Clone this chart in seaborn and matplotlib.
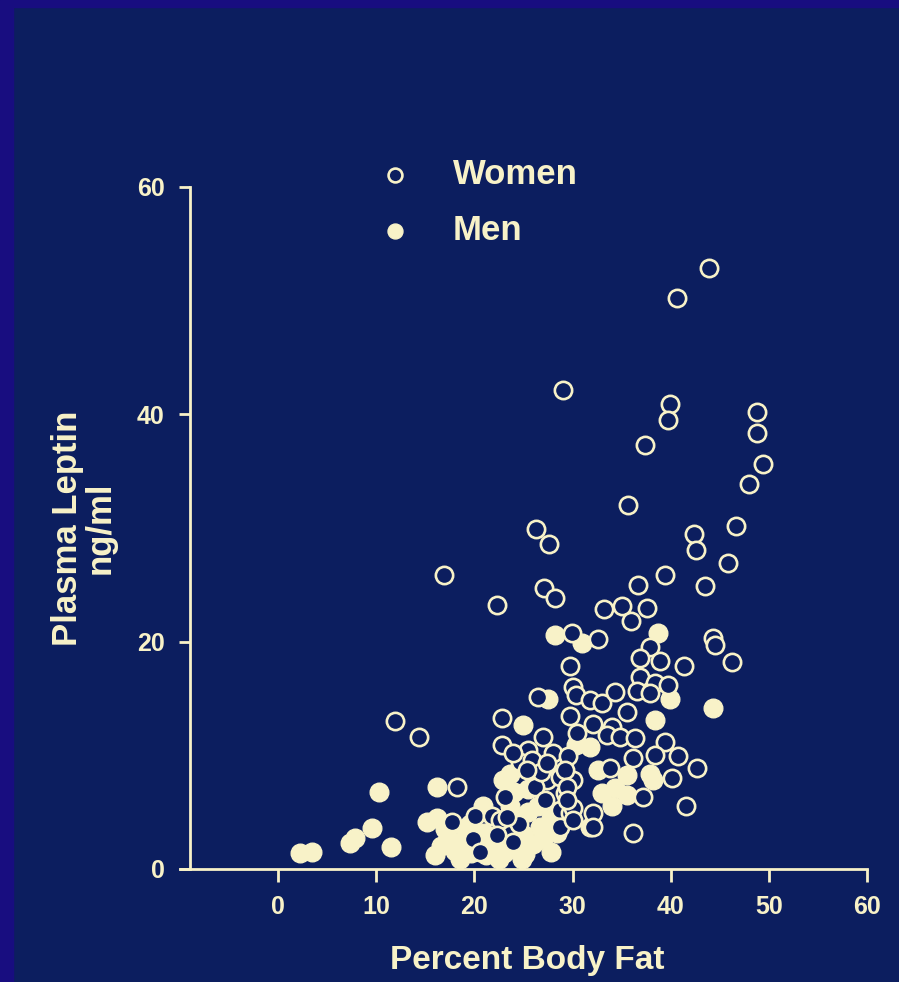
import matplotlib
matplotlib.use("Agg")
import matplotlib.pyplot as plt
import seaborn as sns
import pandas as pd

# colours
BG = "#0c1e5f"
BORDER = "#180d80"
CREAM = "#f8f2c8"

women_x = [43.9, 40.6, 29.0, 39.9, 39.7, 37.4, 48.8, 48.8, 49.4, 48.0,
           35.6, 46.7, 26.3, 27.6, 42.4, 42.6, 16.9, 27.1, 28.2, 36.7,
           39.4, 43.5, 45.8, 22.3, 33.2, 35.0, 37.6, 36.0, 29.9, 32.6,
           44.3, 44.5, 29.7, 41.4, 46.2, 11.9, 14.4, 18.2, 42.7, 37.9,
           36.9, 38.9, 36.9, 38.4, 39.7, 36.6, 37.9, 30.0, 30.4, 31.8,
           33.0, 34.3, 35.5, 26.5, 29.7, 22.8, 32.1, 34.0, 33.5, 34.8,
           30.5, 27.0, 36.4, 39.4, 40.7, 38.4, 36.2, 22.8, 33.8, 40.1,
           41.6, 37.2, 36.2, 32.1, 32.1, 28.0, 29.5, 27.4, 28.7, 30.0,
           28.7, 29.7, 28.7, 25.5, 24.6, 25.9, 23.1, 26.2, 27.2, 20.1,
           21.8, 22.6, 17.7, 19.9, 22.3, 23.9, 20.6, 23.9, 29.2, 30.0,
           24.5, 26.8, 29.2, 27.4, 25.4, 29.4, 29.4, 30.0, 23.3]
women_y = [52.9, 50.2, 42.1, 40.9, 39.5, 37.3, 40.2, 38.4, 35.6, 33.9,
           32.0, 30.2, 29.9, 28.6, 29.5, 28.1, 25.9, 24.7, 23.8, 25.0,
           25.9, 24.9, 26.9, 23.2, 22.9, 23.1, 23.0, 21.8, 20.8, 20.2,
           20.3, 19.7, 17.9, 17.9, 18.2, 13.0, 11.6, 7.2, 8.9, 19.5,
           18.6, 18.3, 16.9, 16.4, 16.2, 15.7, 15.5, 16.0, 15.3, 14.9,
           14.6, 15.6, 13.8, 15.1, 13.5, 13.3, 12.8, 12.5, 11.8, 11.6,
           12.0, 11.6, 11.5, 11.2, 9.9, 10.0, 9.8, 10.9, 8.9, 8.0,
           5.5, 6.3, 3.2, 4.9, 3.7, 10.2, 9.9, 7.8, 8.1, 7.8,
           5.2, 4.9, 3.7, 10.5, 9.4, 9.6, 6.3, 7.2, 6.1, 4.7,
           4.7, 4.3, 4.1, 2.6, 3.0, 2.4, 1.5, 10.2, 6.7, 5.4,
           4.0, 8.5, 8.7, 9.3, 8.7, 7.2, 6.1, 4.3, 4.6]

men_x = [2.2, 3.5, 7.3, 7.8, 9.6, 10.3, 11.5, 15.2, 16.2, 16.2,
         16.0, 16.6, 17.3, 18.0, 18.8, 19.6, 20.4, 21.2, 22.0, 23.0,
         24.2, 25.2, 26.0, 19.0, 21.0, 25.0, 26.7, 28.4, 27.0, 20.9,
         23.6, 22.9, 23.6, 24.9, 24.4, 25.5, 24.0, 28.2, 31.0, 38.7,
         27.5, 39.9, 44.3, 38.4, 30.4, 31.8, 32.6, 35.5, 37.9, 38.2,
         33.0, 34.3, 35.5, 34.0, 31.8, 25.5, 26.5, 27.8, 25.0, 27.8,
         24.8, 22.5, 18.5, 17.0, 19.5]
men_y = [1.4, 1.5, 2.3, 2.7, 3.6, 6.8, 1.9, 4.1, 4.5, 7.2,
         1.2, 2.0, 2.8, 1.6, 2.4, 1.4, 2.2, 1.2, 2.0, 1.4,
         1.8, 1.3, 2.2, 3.5, 3.2, 3.0, 3.7, 3.2, 2.6, 5.5,
         5.5, 7.8, 8.4, 12.7, 4.2, 5.0, 6.8, 20.6, 19.9, 20.8,
         15.0, 15.0, 14.2, 13.1, 10.9, 10.7, 8.7, 8.3, 8.4, 7.8,
         6.7, 7.1, 6.5, 5.5, 3.7, 7.0, 5.5, 4.5, 2.5, 1.5,
         0.9, 0.9, 0.9, 3.5, 4.0]

x_ticks = [0, 10, 20, 30, 40, 50, 60]
y_ticks = [0, 20, 40, 60]

women = pd.DataFrame({"fat": women_x, "leptin": women_y})
men = pd.DataFrame({"fat": men_x, "leptin": men_y})

sns.set_style("ticks")
plt.rcParams["font.family"] = ["Liberation Sans", "DejaVu Sans"]

fig = plt.figure(figsize=(8.99, 9.82), dpi=100, facecolor=BG)
# purple frame at the left and top edges of the slide
fig.patches.append(plt.Rectangle((0, 0), 13 / 899, 1, transform=fig.transFigure,
                                 color=BORDER, zorder=0))
fig.patches.append(plt.Rectangle((0, 1 - 7 / 982), 1, 7 / 982, transform=fig.transFigure,
                                 color=BORDER, zorder=0))

ax = fig.add_axes([180 / 899, 113 / 982, 687 / 899, 682 / 982])
ax.set_facecolor("none")

sns.scatterplot(data=men, x="fat", y="leptin", ax=ax, s=180, color=CREAM,
                edgecolor=CREAM, linewidth=1, label="Men", zorder=3, clip_on=False)
sns.scatterplot(data=women, x="fat", y="leptin", ax=ax, s=155, color=BG,
                edgecolor=CREAM, linewidth=1.9, label="Women", zorder=4, clip_on=False)

ax.set_xlim(-10, 60)
ax.set_ylim(0, 60)
ax.set_xticks(x_ticks)
ax.set_yticks(y_ticks)

for side in ["top", "right"]:
    ax.spines[side].set_visible(False)
ax.spines["left"].set_position(("data", -9))
for side in ["left", "bottom"]:
    ax.spines[side].set_color(CREAM)
    ax.spines[side].set_linewidth(2)

ax.tick_params(axis="x", colors=CREAM, length=9, width=2, pad=10, labelsize=18)
ax.tick_params(axis="y", colors=CREAM, length=8, width=2, pad=10, labelsize=18)
for lab in ax.get_xticklabels() + ax.get_yticklabels():
    lab.set_fontweight("bold")

ax.set_xlabel("Percent Body Fat", color=CREAM, fontsize=24, fontweight="bold")
ax.xaxis.set_label_coords(0.505, -0.112)
ax.set_ylabel("Plasma Leptin\nng/ml", color=CREAM, fontsize=25, fontweight="bold",
              linespacing=1.0)
ax.yaxis.set_label_coords(-0.092, 0.5)

handles, labels = ax.get_legend_handles_labels()
order = [labels.index("Women"), labels.index("Men")]
leg = ax.legend([handles[i] for i in order], [labels[i] for i in order],
                loc="upper left", bbox_to_anchor=(346 / 899, 1 - 127 / 982),
                bbox_transform=fig.transFigure, frameon=False, markerscale=0.8,
                handlelength=1.0, handletextpad=1.17, labelspacing=0.66,
                prop={"size": 25, "weight": "bold"})
for t in leg.get_texts():
    t.set_color(CREAM)

fig.savefig("out.png", dpi=100, facecolor=BG)
